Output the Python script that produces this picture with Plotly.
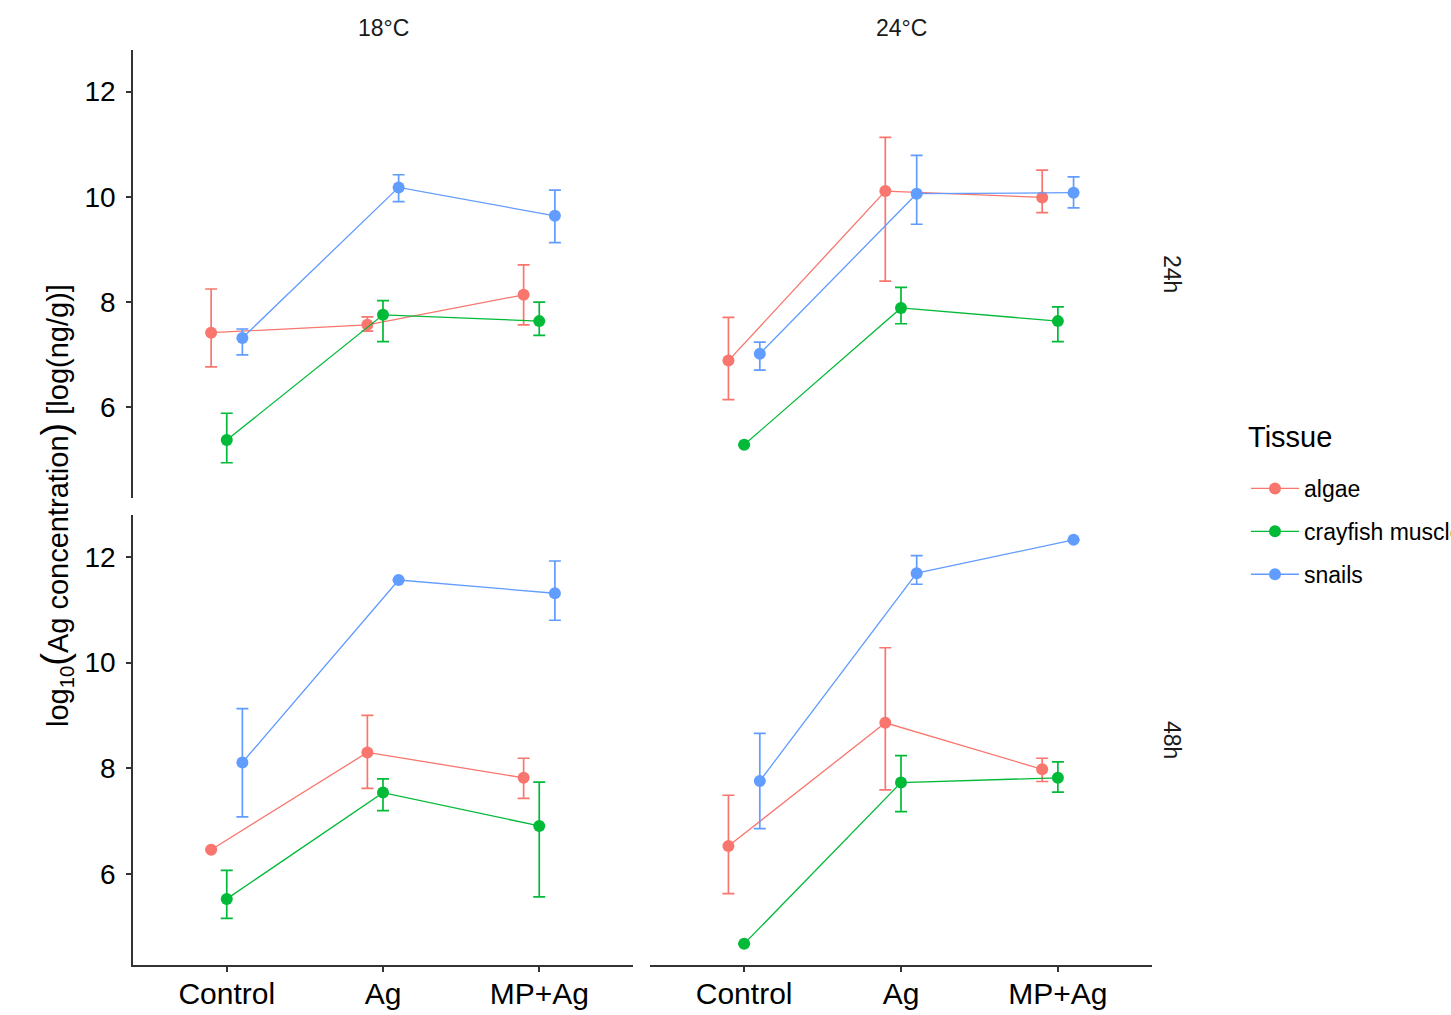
import plotly.graph_objects as go

# ---------------- data ----------------
categories = ["Control", "Ag", "MP+Ag"]
tissues = ["algae", "crayfish muscle", "snails"]
temperatures = ["18°C", "24°C"]
times = ["24h", "48h"]

# 18°C, 24h
algae_18_24_mean = [7.42, 7.57, 8.14]
algae_18_24_lo = [6.77, 7.45, 7.57]
algae_18_24_hi = [8.25, 7.72, 8.71]
cray_18_24_mean = [5.38, 7.76, 7.64]
cray_18_24_lo = [4.95, 7.25, 7.37]
cray_18_24_hi = [5.89, 8.03, 8.00]
snail_18_24_mean = [7.32, 10.18, 9.64]
snail_18_24_lo = [7.00, 9.91, 9.13]
snail_18_24_hi = [7.49, 10.42, 10.13]

# 24°C, 24h
algae_24_24_mean = [6.89, 10.11, 9.99]
algae_24_24_lo = [6.15, 8.40, 9.70]
algae_24_24_hi = [7.71, 11.13, 10.51]
cray_24_24_mean = [5.29, 7.89, 7.64]
cray_24_24_lo = [None, 7.59, 7.25]
cray_24_24_hi = [None, 8.28, 7.91]
snail_24_24_mean = [7.02, 10.06, 10.08]
snail_24_24_lo = [6.71, 9.48, 9.79]
snail_24_24_hi = [7.24, 10.79, 10.38]

# 18°C, 48h
algae_18_48_mean = [6.46, 8.30, 7.82]
algae_18_48_lo = [None, 7.62, 7.43]
algae_18_48_hi = [None, 9.00, 8.19]
cray_18_48_mean = [5.53, 7.54, 6.91]
cray_18_48_lo = [5.16, 7.20, 5.57]
cray_18_48_hi = [6.07, 7.80, 7.74]
snail_18_48_mean = [8.11, 11.56, 11.31]
snail_18_48_lo = [7.08, None, 10.80]
snail_18_48_hi = [9.13, None, 11.92]

# 24°C, 48h
algae_24_48_mean = [6.53, 8.86, 7.98]
algae_24_48_lo = [5.63, 7.59, 7.75]
algae_24_48_hi = [7.49, 10.28, 8.19]
cray_24_48_mean = [4.68, 7.73, 7.82]
cray_24_48_lo = [None, 7.18, 7.55]
cray_24_48_hi = [None, 8.24, 8.12]
snail_24_48_mean = [7.76, 11.69, 12.32]
snail_24_48_lo = [6.86, 11.48, None]
snail_24_48_hi = [8.66, 12.02, None]

# ---------------- styling ----------------
colors = {"algae": "#F8766D", "crayfish muscle": "#00BA38", "snails": "#619CFF"}
dodge = {"algae": -0.1, "crayfish muscle": 0.0, "snails": 0.1}
FONT = "Liberation Sans, Arial, sans-serif"

W, H = 1451, 1015
def px_x(p):
    return p / W
def px_y(p):
    return 1 - p / H

# panel pixel boxes
left_dom = [px_x(133), px_x(633)]
right_dom = [px_x(650), px_x(1152)]
top_dom = [px_y(498), px_y(50)]
bot_dom = [px_y(965), px_y(515)]

panels = [
    ("", left_dom, top_dom,
     {"algae": (algae_18_24_mean, algae_18_24_lo, algae_18_24_hi),
      "crayfish muscle": (cray_18_24_mean, cray_18_24_lo, cray_18_24_hi),
      "snails": (snail_18_24_mean, snail_18_24_lo, snail_18_24_hi)}),
    ("2", right_dom, top_dom,
     {"algae": (algae_24_24_mean, algae_24_24_lo, algae_24_24_hi),
      "crayfish muscle": (cray_24_24_mean, cray_24_24_lo, cray_24_24_hi),
      "snails": (snail_24_24_mean, snail_24_24_lo, snail_24_24_hi)}),
    ("3", left_dom, bot_dom,
     {"algae": (algae_18_48_mean, algae_18_48_lo, algae_18_48_hi),
      "crayfish muscle": (cray_18_48_mean, cray_18_48_lo, cray_18_48_hi),
      "snails": (snail_18_48_mean, snail_18_48_lo, snail_18_48_hi)}),
    ("4", right_dom, bot_dom,
     {"algae": (algae_24_48_mean, algae_24_48_lo, algae_24_48_hi),
      "crayfish muscle": (cray_24_48_mean, cray_24_48_lo, cray_24_48_hi),
      "snails": (snail_24_48_mean, snail_24_48_lo, snail_24_48_hi)}),
]

fig = go.Figure()
for pi, (sfx, xd, yd, data) in enumerate(panels):
    for t in tissues:
        mean, lo, hi = data[t]
        xs = [i + 1 + dodge[t] for i in range(len(categories))]
        err_plus = [None if h is None else h - m for m, h in zip(mean, hi)]
        err_minus = [None if l is None else m - l for m, l in zip(mean, lo)]
        fig.add_trace(go.Scatter(
            x=xs, y=mean, mode="lines+markers", name=t,
            legendgroup=t, showlegend=(pi == 0),
            line=dict(color=colors[t], width=1.3),
            marker=dict(color=colors[t], size=12),
            error_y=dict(type="data", array=err_plus, arrayminus=err_minus,
                         symmetric=False, color=colors[t], thickness=1.7, width=6),
            xaxis="x" + sfx, yaxis="y" + sfx,
        ))

yrange = [4.28, 12.79]
xrange = [0.4, 3.6]
axis_common = dict(linecolor="#333333", linewidth=1.5, ticklen=5,
                   tickwidth=1.5, tickcolor="#333333", showgrid=False, zeroline=False,
                   fixedrange=True)

layout = dict(
    width=W, height=H, margin=dict(l=0, r=0, t=0, b=0, autoexpand=False),
    paper_bgcolor="white", plot_bgcolor="white",
    font=dict(family=FONT, color="black"),
    showlegend=True,
    legend=dict(
        x=px_x(1246), y=px_y(467), xanchor="left", yanchor="top",
        font=dict(size=23, color="black"),
        tracegroupgap=10, itemwidth=48,
        bgcolor="rgba(0,0,0,0)",
    ),
)

for sfx, xd, yd, data in panels:
    is_left = sfx in ("", "3")
    is_bottom = sfx in ("3", "4")
    xa = dict(axis_common, domain=xd, range=xrange, anchor="y" + sfx,
              tickvals=[1, 2, 3], ticktext=categories,
              tickfont=dict(size=30, color="black"),
              showline=is_bottom, showticklabels=is_bottom,
              ticks="outside" if is_bottom else "", ticklabelstandoff=-4)
    ya = dict(axis_common, domain=yd, range=yrange, anchor="x" + sfx,
              tickvals=[6, 8, 10, 12],
              tickfont=dict(size=28, color="black"),
              showline=is_left, showticklabels=is_left,
              ticks="outside" if is_left else "", ticklabelstandoff=5)
    layout["xaxis" + sfx] = xa
    layout["yaxis" + sfx] = ya

annotations = []
# column strips
for temp, xd in zip(temperatures, [left_dom, right_dom]):
    annotations.append(dict(text=temp, x=(xd[0] + xd[1]) / 2, y=px_y(28),
                            xref="paper", yref="paper", showarrow=False,
                            xanchor="center", yanchor="middle",
                            font=dict(size=23, color="#1a1a1a")))
# row strips
for tm, yd in zip(times, [top_dom, bot_dom]):
    annotations.append(dict(text=tm, x=px_x(1172), y=(yd[0] + yd[1]) / 2,
                            xref="paper", yref="paper", showarrow=False,
                            xanchor="center", yanchor="middle",
                            textangle=90, font=dict(size=23, color="#1a1a1a")))
# legend title
annotations.append(dict(text="Tissue", x=px_x(1246), y=px_y(437),
                        xref="paper", yref="paper", showarrow=False,
                        xanchor="left", yanchor="middle",
                        font=dict(size=29, color="black")))
# y-axis title
annotations.append(dict(
    text="log<sub>10</sub><span style='font-size:38px'>(</span>Ag concentration"
         "<span style='font-size:38px'>)</span> [log(ng/g)]",
    x=px_x(56), y=px_y(506), xref="paper", yref="paper",
    xanchor="center", yanchor="middle",
    showarrow=False, textangle=-90,
    font=dict(size=29, color="black")))
layout["annotations"] = annotations

fig.update_layout(**layout)
fig.write_html("out.html")
